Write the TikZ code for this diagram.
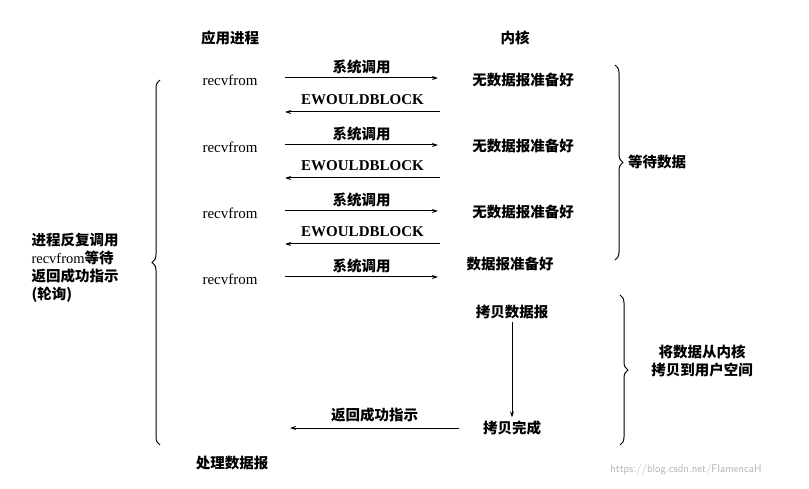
\documentclass[tikz,border=0pt]{standalone}
\usepackage{fontspec}
\setmainfont{Liberation Serif}
\newfontfamily\cjk{Noto Sans CJK SC}
\usetikzlibrary{decorations.pathreplacing,arrows.meta}
\tikzset{
 t/.style={font=\fontsize{15}{17}\selectfont},
 c/.style={font=\cjk\bfseries\fontsize{14.5}{18}\selectfont},
 arr/.style={-{Stealth[length=6pt,width=4pt]},line width=1pt},
 br/.style={decorate,decoration={brace,amplitude=8pt},line width=1pt}
}
\begin{document}
\begin{tikzpicture}[x=1pt,y=-1pt]
\useasboundingbox (0,0) rectangle (809,489);
\node[c] (app) at (230,38) {应用进程};
\node[c] (ker) at (515,38) {内核};
\foreach \i/\y in {1/78,2/145,3/211,4/277}{
 \node[t] (r\i) at (230,\y+2) {recvfrom};
 \coordinate (a\i) at (285,\y);
 \coordinate (b\i) at (438,\y);
 \draw[arr] (a\i) -- (b\i) node[c,midway,above=0pt] (s\i) {系统调用};
}
\foreach \i/\y in {1/112,2/178,3/244}{
 \coordinate (c\i) at (440,\y);
 \coordinate (d\i) at (285,\y);
 \draw[arr] (c\i) -- (d\i) node[t,midway,above=3pt,font=\bfseries\fontsize{15}{17}\selectfont] (e\i) {EWOULDBLOCK};
 \node[c] (k\i) at (523,\y-32) {无数据报准备好};
}
\node[c] (k4) at (510,264) {数据报准备好};
\coordinate (p1) at (615,65); \coordinate (p2) at (615,260);
\draw[br] (p1) -- (p2);
\node[c] (w) at (657,162) {等待数据};
\node[c] (cp) at (512,312) {拷贝数据报};
\node[c] (cd) at (512,428) {拷贝完成};
\draw[arr] (cp) -- (cd);
\coordinate (q1) at (620,295); \coordinate (q2) at (620,445);
\draw[br] (q1) -- (q2);
\node[c,align=center] (cu) at (702,361) {将数据从内核\\拷贝到用户空间};
\coordinate (rr) at (290,428);
\draw[arr] (cd.west) ++(-20,0) coordinate (cs) (cs) -- (rr) node[c,midway,above=2pt] (ok) {返回成功指示};
\coordinate (l1) at (160,445); \coordinate (l2) at (160,80);
\draw[br] (l1) -- (l2);
\node[c,align=left,anchor=west] (poll) at (28,268) {进程反复调用\\{\rmfamily\mdseries recvfrom}等待\\返回成功指示\\(轮询)};
\node[c] (done) at (232,463) {处理数据报};
\node[font=\sffamily\fontsize{11}{13}\selectfont,text=gray!60] (wm) at (686,470) {https://blog.csdn.net/FlamencaH};
\end{tikzpicture}
\end{document}
